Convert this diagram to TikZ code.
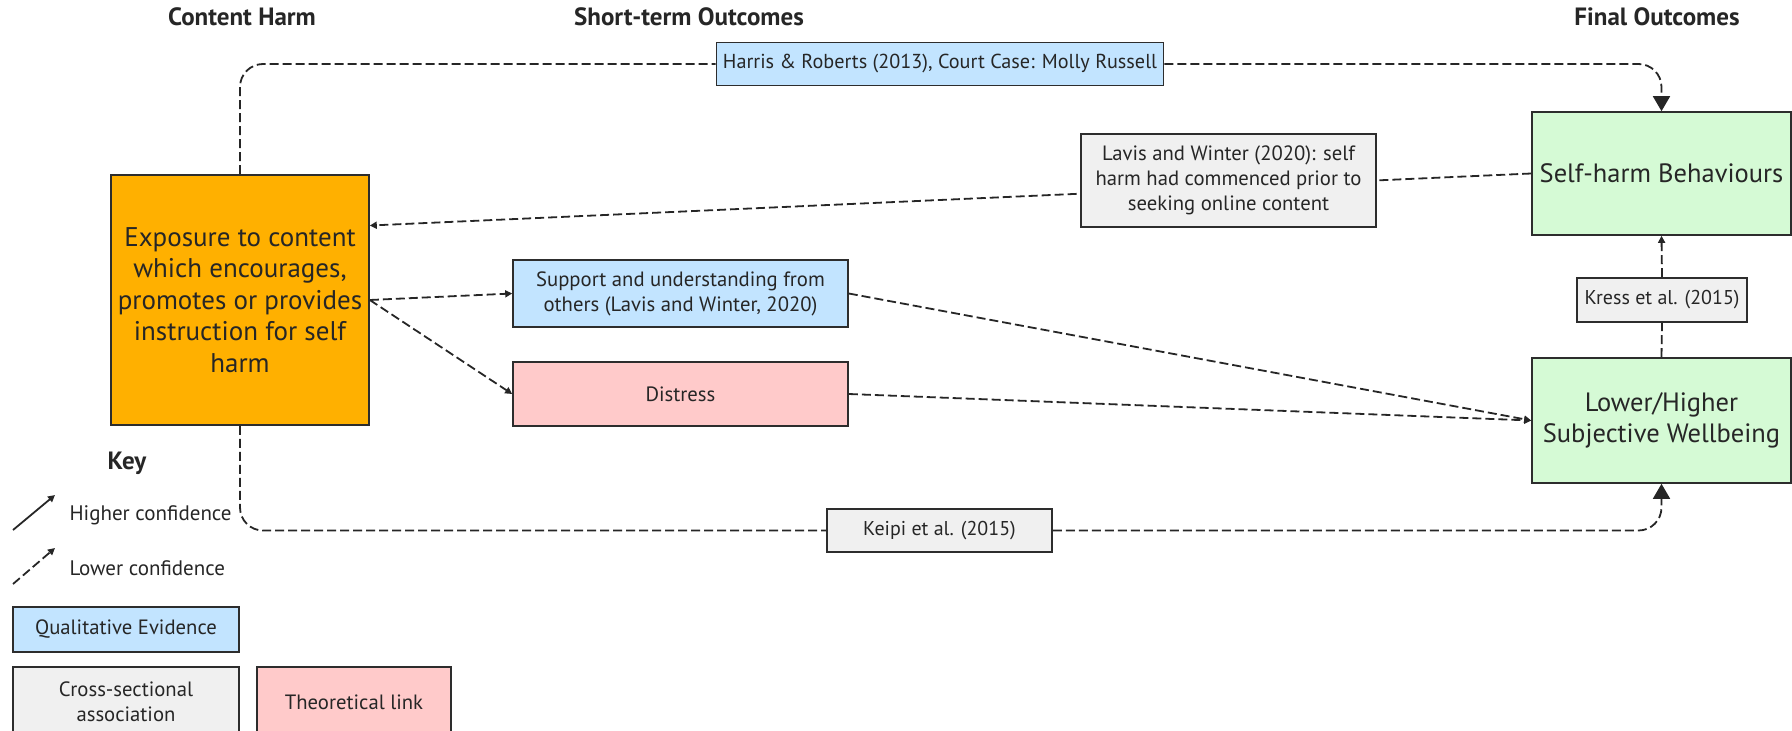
\documentclass[tikz,border=0pt]{standalone}
\usepackage{fontspec}
\setmainfont{PT Sans}
\usetikzlibrary{arrows.meta,calc}
\definecolor{harmorange}{RGB}{255,176,0}
\definecolor{qualblue}{RGB}{194,228,255}
\definecolor{crossgrey}{RGB}{240,240,240}
\definecolor{theorypink}{RGB}{255,202,202}
\definecolor{outcomegreen}{RGB}{213,250,213}
\definecolor{edgegrey}{RGB}{45,45,45}
\definecolor{textgrey}{RGB}{38,38,38}

\begin{document}
\begin{tikzpicture}[x=1pt,y=-1pt,
    every node/.style={text=textgrey},
    panel/.style={draw=edgegrey, line width=1.6pt, inner sep=0pt, align=center,
        font=\fontsize{20.7}{25}\selectfont},
    bigpanel/.style={panel, font=\fontsize{27}{31.4}\selectfont},
    heading/.style={font=\bfseries\fontsize{25}{28}\selectfont},
    keytext/.style={anchor=west, font=\fontsize{21}{24}\selectfont},
    link/.style={line width=1.8pt, draw=black!85, dash pattern=on 9pt off 4pt},
    solidlink/.style={line width=1.8pt, draw=black!85},
    smalltip/.style={-{Triangle[length=7pt,width=7pt]}},
    bigtip/.style={-{Triangle[length=15pt,width=17pt]}}]
    \clip (0,0) rectangle (1792,731);

    \node[heading] (harmhead) at (242,17) {Content Harm};
    \node[heading] (shorthead) at (689,17) {Short-term Outcomes};
    \node[heading] (finalhead) at (1657,17) {Final Outcomes};

    \node[bigpanel, fill=harmorange, minimum width=258pt, minimum height=250pt] (exposure) at (240,300)
        {Exposure to content\\which encourages,\\promotes or provides\\instruction for self\\harm};
    \node[bigpanel, fill=outcomegreen, minimum width=259pt, minimum height=123pt,
        font=\fontsize{26.5}{31.4}\selectfont] (selfharm) at (1661.5,173.5)
        {Self-harm Behaviours};
    \node[bigpanel, fill=outcomegreen, minimum width=259pt, minimum height=125pt,
        font=\fontsize{26.5}{31}\selectfont] (wellbeing) at (1661.5,420.5)
        {Lower/Higher\\Subjective Wellbeing};
    \node[panel, fill=qualblue, minimum width=335pt, minimum height=67pt] (support) at (680.5,293.5)
        {Support and understanding from\\others (Lavis and Winter, 2020)};
    \node[panel, fill=theorypink, minimum width=335pt, minimum height=64pt] (distress) at (680.5,394)
        {Distress};

    \node[panel, fill=qualblue, minimum width=447pt, minimum height=43pt,
        font=\fontsize{20.2}{25}\selectfont] (harris) at (940,64)
        {Harris \& Roberts (2013), Court Case: Molly Russell};
    \node[panel, fill=crossgrey, minimum width=225pt, minimum height=43pt,
        font=\fontsize{20}{25}\selectfont] (keipi) at (939.5,530.5)
        {Keipi et al. (2015)};
    \node[panel, fill=crossgrey, minimum width=170pt, minimum height=44pt,
        font=\fontsize{20}{25}\selectfont] (kress) at (1662,300)
        {Kress et al. (2015)};

    \draw[link, rounded corners=23pt] (exposure.north) |- (harris.west);
    \draw[link, rounded corners=23pt, bigtip] (harris.east) -| (selfharm.north);
    \draw[link, rounded corners=23pt] (exposure.south) |- (keipi.west);
    \draw[link, rounded corners=23pt, bigtip] (keipi.east) -| (wellbeing.south);
    \draw[link] (wellbeing.north) -- (kress.south);
    \draw[link, smalltip] (kress.north) -- (selfharm.south);
    \draw[link, smalltip] (exposure.east) -- (support.west);
    \draw[link, smalltip] (exposure.east) -- (distress.west);
    \draw[link, smalltip] (support.east) -- (wellbeing.west);
    \draw[link, smalltip] (distress.east) -- (wellbeing.west);
    \draw[link, smalltip] (selfharm.west) -- ($(exposure.north east)!0.204!(exposure.south east)$);

    \node[panel, fill=crossgrey, minimum width=295pt, minimum height=93pt] (lavis) at (1228.5,180.5)
        {Lavis and Winter (2020): self\\harm had commenced prior to\\seeking online content};

    \node[heading] (keyhead) at (127,463) {Key};
    \coordinate (solidfrom) at (13,530);
    \coordinate (solidto) at (55,495);
    \coordinate (dashfrom) at (13,584);
    \coordinate (dashto) at (55,548);
    \draw[solidlink, smalltip] (solidfrom) -- (solidto);
    \draw[link, smalltip] (dashfrom) -- (dashto);
    \node[keytext] (higher) at (66,515) {Higher confidence};
    \node[keytext] (lower) at (66,568) {Lower confidence};
    \node[panel, fill=qualblue, minimum width=226pt, minimum height=45pt] (qualkey) at (126,629.5)
        {Qualitative Evidence};
    \node[panel, fill=crossgrey, minimum width=226pt, minimum height=70pt] (crosskey) at (126,702)
        {Cross-sectional\\association};
    \node[panel, fill=theorypink, minimum width=194pt, minimum height=70pt] (theorykey) at (354,702)
        {Theoretical link};
\end{tikzpicture}
\end{document}
